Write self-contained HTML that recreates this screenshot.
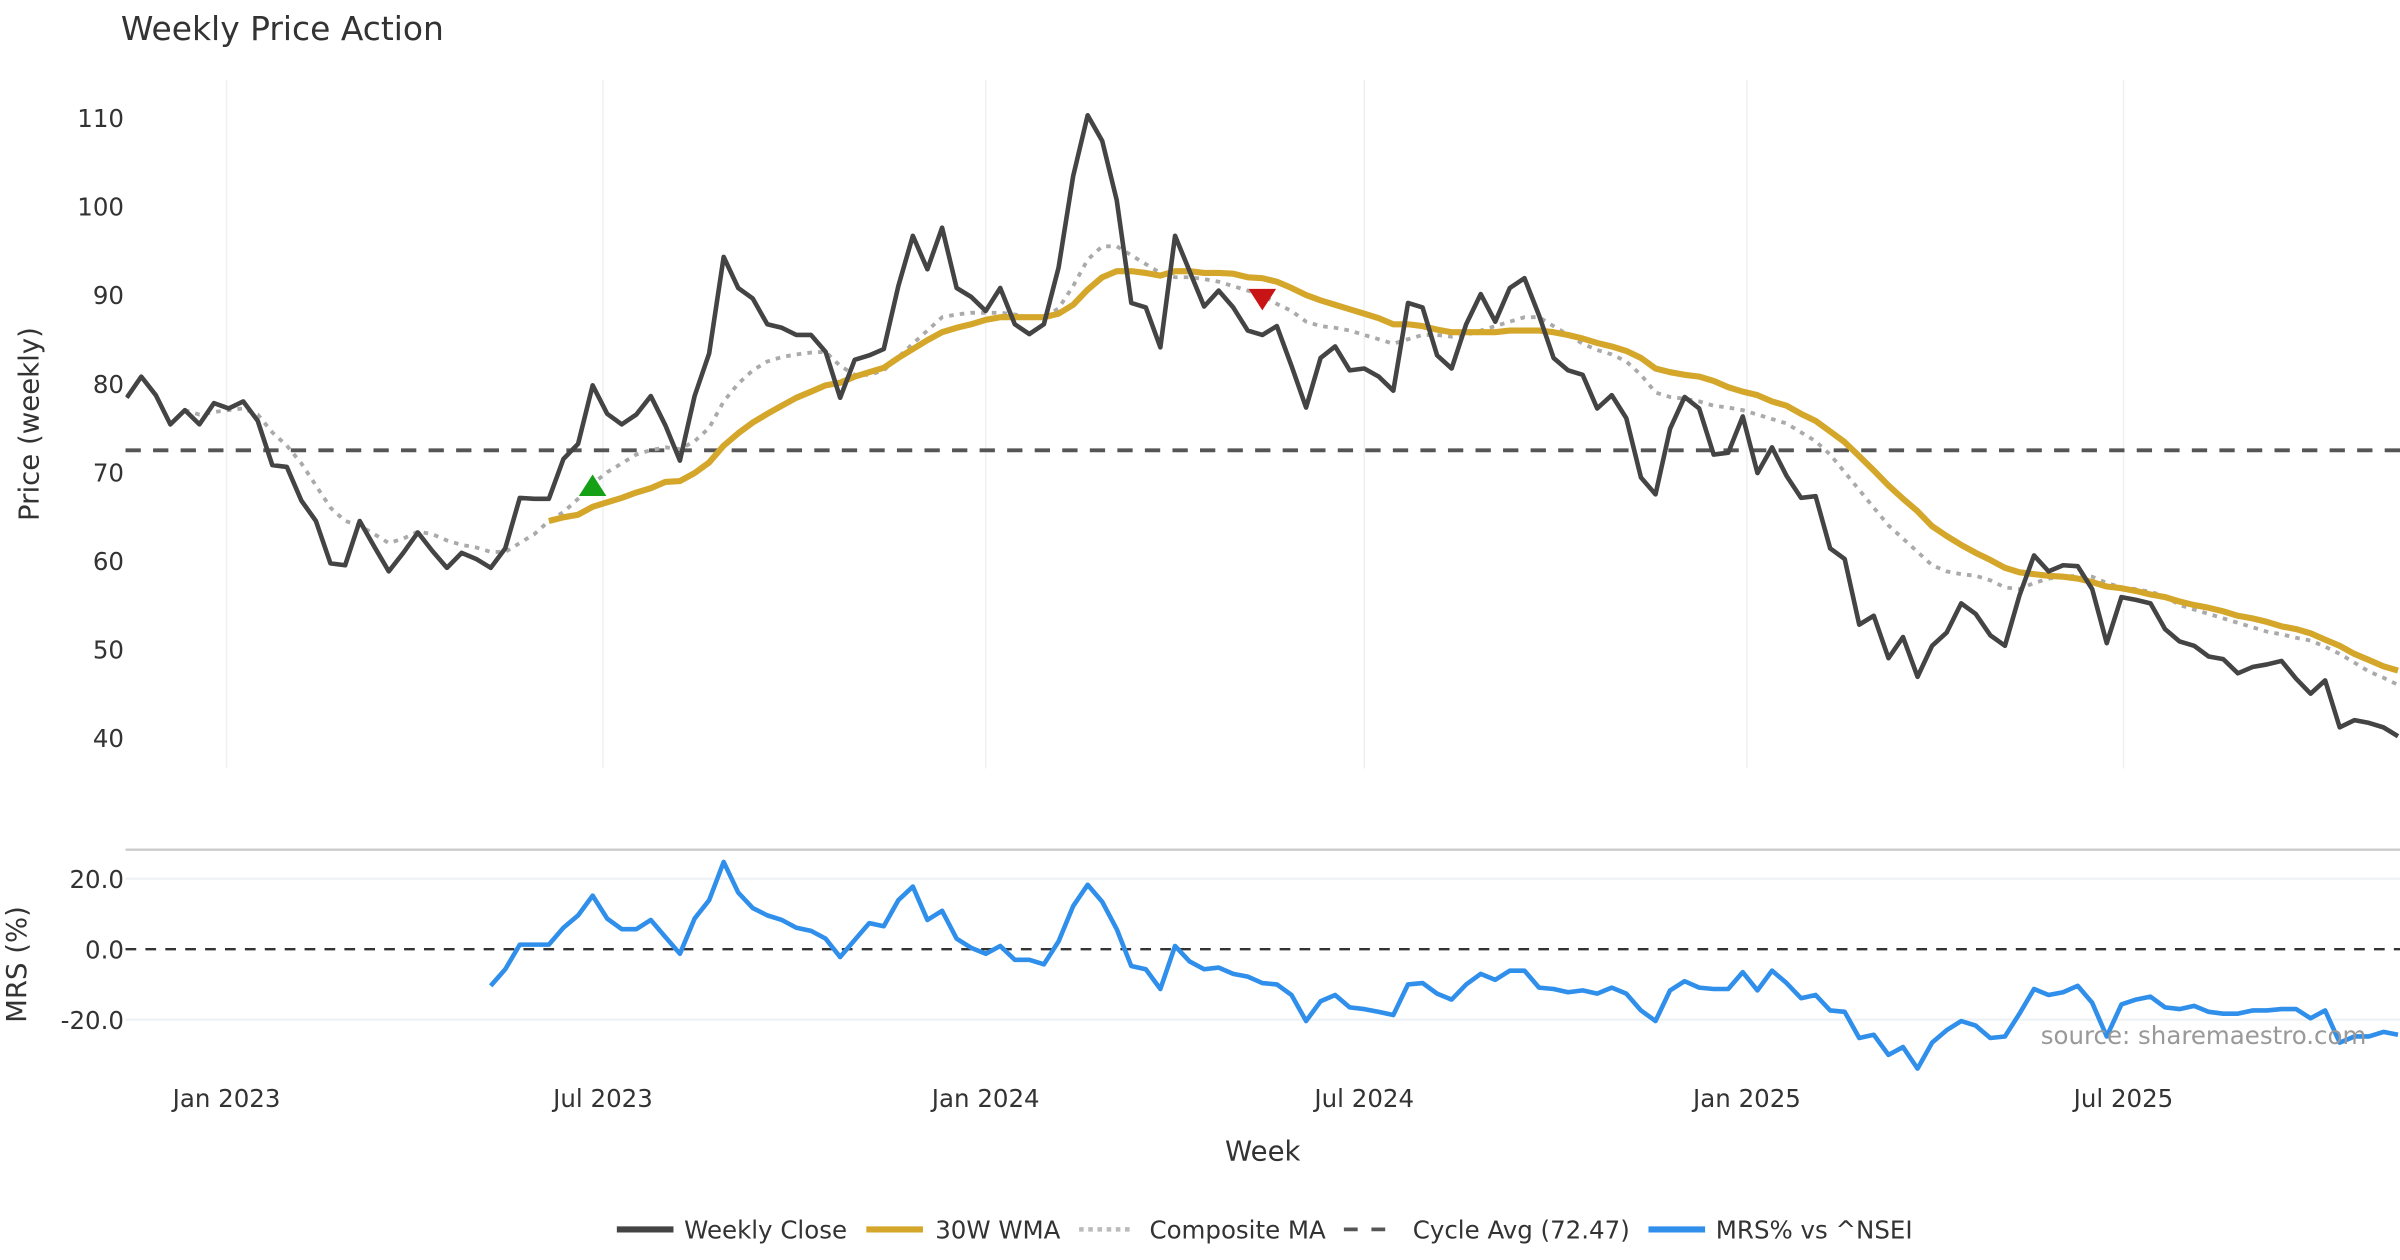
<!DOCTYPE html>
<html><head><meta charset="utf-8"><style>
html,body{margin:0;padding:0;background:#fff;}
svg{display:block;font-family:"DejaVu Sans","Liberation Sans",sans-serif;}
</style></head><body>
<svg id="chart" width="2400" height="1260" viewBox="0 0 1568 823" preserveAspectRatio="none" xmlns="http://www.w3.org/2000/svg">
<defs>
<clipPath id="clipTop"><rect x="82" y="40" width="1486" height="470"/></clipPath>
<clipPath id="clipBot"><rect x="82" y="556" width="1486" height="150"/></clipPath>
</defs>
<text x="79" y="26" font-size="21.5" fill="#333">Weekly Price Action</text>
<g id="gridG"></g>
<g id="topG" clip-path="url(#clipTop)"></g>
<g id="botG" clip-path="url(#clipBot)"></g>
<g id="axesG"></g>
<text transform="translate(25,277) rotate(-90)" text-anchor="middle" font-size="18" fill="#333">Price (weekly)</text>
<text transform="translate(17,630) rotate(-90)" text-anchor="middle" font-size="18" fill="#333">MRS (%)</text>
<text x="825" y="758" text-anchor="middle" font-size="18" fill="#333">Week</text>
<text x="1546" y="682" text-anchor="end" font-size="16" fill="#999">source: sharemaestro.com</text>
<g id="legend">
<line x1="403" y1="803" x2="440" y2="803" stroke="#444" stroke-width="4"/>
<text x="447" y="809" font-size="16" fill="#333">Weekly Close</text>
<line x1="566" y1="803" x2="603" y2="803" stroke="#D4A62A" stroke-width="4"/>
<text x="611" y="809" font-size="16" fill="#333">30W WMA</text>
<line x1="705" y1="803" x2="741" y2="803" stroke="#bbb" stroke-width="3" stroke-dasharray="3,3"/>
<text x="751" y="809" font-size="16" fill="#333">Composite MA</text>
<line x1="878" y1="803" x2="914" y2="803" stroke="#555" stroke-width="2.5" stroke-dasharray="9,9"/>
<text x="923" y="809" font-size="16" fill="#333">Cycle Avg (72.47)</text>
<line x1="1077" y1="803" x2="1114" y2="803" stroke="#2F8FEA" stroke-width="4"/>
<text x="1121" y="809" font-size="16" fill="#333">MRS% vs ^NSEI</text>
</g>
</svg>
<script>
const closeVals=[78.4,80.8,78.7,75.4,77,75.4,77.8,77.2,78,75.8,70.8,70.6,66.8,64.5,59.7,59.5,64.5,61.6,58.8,60.9,63.2,61.1,59.2,60.9,60.2,59.2,61.4,67.1,67,67,71.5,73.2,79.8,76.6,75.4,76.5,78.6,75.3,71.3,78.6,83.4,94.3,90.8,89.6,86.7,86.3,85.5,85.5,83.6,78.4,82.7,83.2,83.9,91,96.7,92.9,97.6,90.8,89.8,88.2,90.8,86.7,85.6,86.7,93.1,103.4,110.3,107.4,100.7,89.1,88.6,84.1,96.7,92.7,88.7,90.5,88.6,86,85.5,86.5,82,77.3,82.9,84.2,81.5,81.7,80.8,79.2,89.1,88.6,83.2,81.7,86.7,90.1,87,90.8,91.9,87.7,82.9,81.5,81,77.2,78.7,76.1,69.4,67.5,74.9,78.5,77.2,72,72.2,76.3,69.9,72.8,69.6,67.1,67.3,61.4,60.2,52.8,53.8,49,51.4,46.9,50.4,51.9,55.2,54,51.6,50.4,56.1,60.6,58.8,59.5,59.4,56.8,50.7,55.9,55.6,55.2,52.3,50.9,50.4,49.2,48.9,47.3,48,48.3,48.7,46.7,45,46.5,41.2,42,41.7,41.2,40.2];
const wmaVals=[null,null,null,null,null,null,null,null,null,null,null,null,null,null,null,null,null,null,null,null,null,null,null,null,null,null,null,null,null,64.5,64.9,65.2,66.1,66.6,67.1,67.7,68.2,68.9,69.0,69.9,71.1,73.0,74.4,75.6,76.6,77.5,78.4,79.1,79.8,80.1,80.8,81.3,81.8,82.9,83.9,84.9,85.8,86.3,86.7,87.2,87.5,87.5,87.5,87.5,87.9,88.9,90.6,92.0,92.7,92.7,92.5,92.2,92.7,92.7,92.5,92.5,92.4,92.0,91.9,91.5,90.8,90.0,89.4,88.9,88.4,87.9,87.4,86.7,86.7,86.5,86.1,85.8,85.8,85.8,85.8,86.0,86.0,86.0,85.8,85.5,85.1,84.6,84.2,83.7,82.9,81.7,81.3,81.0,80.8,80.3,79.6,79.1,78.7,78.0,77.5,76.6,75.8,74.6,73.4,71.8,70.2,68.5,67.0,65.6,63.9,62.8,61.8,60.9,60.1,59.2,58.7,58.5,58.3,58.2,58.0,57.6,57.1,56.9,56.6,56.2,55.9,55.4,55.0,54.7,54.3,53.8,53.5,53.1,52.6,52.3,51.8,51.1,50.4,49.5,48.8,48.1,47.6];
const compVals=[null,null,null,null,77,76.5,76.8,77,77.2,76.5,74.5,73,71,68.5,66,64.5,64,63,62,62.5,63.3,63,62.3,61.8,61.5,61,61,62,63,64.5,65.5,67,68.7,70,71,72,72.5,72.8,72.6,73.5,75,78,80,81.5,82.5,83,83.3,83.5,83.6,82,81,81,81.5,83,84.5,86,87.5,87.8,88,88,88,87.8,87.5,87.5,88.5,91,94,95.5,95.5,94.5,93.5,92.5,92,92,91.8,91.5,91,90.5,90,89,88.2,87,86.5,86.3,86,85.5,85,84.5,85,85.5,85.5,85.3,85.5,86,86.5,87,87.5,87.5,86.5,85.5,84.5,83.8,83.3,82.5,81,79,78.5,78.3,78,77.5,77.3,77,76.5,76,75.5,74.5,73.5,72,70,68,66,64,62.5,61,59.5,58.8,58.5,58.3,57.8,57,56.8,57.5,58,58.2,58.3,58.2,57.5,57,56.8,56.5,56,55,54.5,54,53.5,53,52.5,52,51.7,51.3,51,50.3,49.5,48.5,47.5,46.8,46];
const mrsVals=[null,null,null,null,null,null,null,null,null,null,null,null,null,null,null,null,null,null,null,null,null,null,null,null,null,-10.4,-5.7,1.3,1.3,1.3,6.1,9.6,15.2,8.7,5.7,5.7,8.3,3.5,-1.3,8.7,13.9,24.8,16.1,11.7,9.6,8.3,6.1,5.2,3.0,-2.2,2.6,7.4,6.5,13.9,17.8,8.3,10.9,3.0,0.4,-1.3,0.9,-3.0,-3.0,-4.3,2.2,12.2,18.3,13.5,5.7,-4.8,-5.7,-11.3,0.9,-3.5,-5.7,-5.2,-7.0,-7.8,-9.6,-10.0,-13.0,-20.4,-14.8,-13.0,-16.5,-17.0,-17.8,-18.7,-10.0,-9.6,-12.6,-14.3,-10.0,-7.0,-8.7,-6.1,-6.1,-10.9,-11.3,-12.2,-11.7,-12.6,-10.9,-12.6,-17.4,-20.4,-11.7,-9.1,-10.9,-11.3,-11.3,-6.5,-11.7,-6.1,-9.6,-13.9,-13.0,-17.4,-17.8,-25.2,-24.3,-30.0,-27.8,-33.9,-26.5,-23.0,-20.4,-21.7,-25.2,-24.8,-18.3,-11.3,-13.0,-12.2,-10.4,-15.2,-24.8,-15.7,-14.3,-13.5,-16.5,-17.0,-16.1,-17.8,-18.3,-18.3,-17.4,-17.4,-17.0,-17.0,-19.6,-17.4,-26.5,-24.8,-24.8,-23.5,-24.3];
const priceTicks=[40,50,60,70,80,90,100,110];
const mrsTicks=[-20,0,20];
const mrsTickLabels=["-20.0","0.0","20.0"];
const xTickDates=["2023-01-01","2023-07-01","2024-01-01","2024-07-01","2025-01-01","2025-07-01"];
const xTickLabels=["Jan 2023","Jul 2023","Jan 2024","Jul 2024","Jan 2025","Jul 2025"];
const cycleAvg=72.47;
const upSignalIdx=[32];
const downSignalIdx=[78];
const startDate="2022-11-14";

const NS="http://www.w3.org/2000/svg";
const DAY=86400000;
const origin=Date.parse("2023-01-01");
function xDate(t){return 148+(t-origin)/DAY*1.3589;}
function xIdx(i){return xDate(Date.parse(startDate)+i*7*DAY);}
function yP(v){return 77+(110-v)*5.786;}
function yM(v){return 620-v*2.3;}
function mk(tag,attrs,parent){const e=document.createElementNS(NS,tag);for(const k in attrs)e.setAttribute(k,attrs[k]);parent.appendChild(e);return e;}
function pathOf(vals,ys){let d="",pen=false;vals.forEach((v,i)=>{if(v==null){pen=false;return;}d+=(pen?"L":"M")+xIdx(i).toFixed(1)+","+ys(v).toFixed(1);pen=true;});return d;}

const gridG=document.getElementById('gridG'),topG=document.getElementById('topG'),botG=document.getElementById('botG'),axesG=document.getElementById('axesG');
xTickDates.forEach((d,k)=>{
  const x=xDate(Date.parse(d));
  const g=mk('line',{x1:x,y1:52,x2:x,y2:502,stroke:'#edf1f4','stroke-width':1},gridG);
  
  
  const t=mk('text',{x:x,y:723,'text-anchor':'middle','font-size':16,fill:'#333'},axesG);
  t.textContent=xTickLabels[k];
  
  
});
priceTicks.forEach(v=>{
  const t=mk('text',{x:81,y:yP(v)+6,'text-anchor':'end','font-size':16,fill:'#333'},axesG);
  t.textContent=v;
  
  
});
mrsTicks.forEach((v,k)=>{
  if(v!==0){const g=mk('line',{x1:82,y1:yM(v),x2:1568,y2:yM(v),stroke:'#eef2f5','stroke-width':1.5},gridG);
  
  }
  const t=mk('text',{x:81,y:yM(v)+6,'text-anchor':'end','font-size':16,fill:'#333'},axesG);
  t.textContent=mrsTickLabels[k];
  
  
});
const sep=mk('line',{x1:82,y1:555,x2:1568,y2:555,stroke:'#ccc','stroke-width':1.5},gridG);



let e;
e=mk('line',{x1:82,y1:yP(cycleAvg),x2:1568,y2:yP(cycleAvg),stroke:'#555','stroke-width':2.5,'stroke-dasharray':'10,8'},topG);


e=mk('path',{d:pathOf(compVals,yP),fill:'none',stroke:'#aaa','stroke-width':2.5,'stroke-dasharray':'3,4'},topG);


e=mk('path',{d:pathOf(wmaVals,yP),fill:'none',stroke:'#D4A62A','stroke-width':4,'stroke-linejoin':'round'},topG);


e=mk('path',{d:pathOf(closeVals,yP),fill:'none',stroke:'#444','stroke-width':3,'stroke-linejoin':'round'},topG);


upSignalIdx.forEach(i=>{const x=xIdx(i),y=yP(compVals[i])+2;
  const t=mk('polygon',{points:`${x-9},${y+6} ${x+9},${y+6} ${x},${y-8}`,fill:'#16a016'},topG);
  
  });
downSignalIdx.forEach(i=>{const x=xIdx(i),y=yP(compVals[i])+4;
  const t=mk('polygon',{points:`${x-9},${y-8} ${x+9},${y-8} ${x},${y+6}`,fill:'#c81414'},topG);
  
  });

e=mk('line',{x1:82,y1:yM(0),x2:1568,y2:yM(0),stroke:'#333','stroke-width':1.5,'stroke-dasharray':'7,6'},botG);


e=mk('path',{d:pathOf(mrsVals,yM),fill:'none',stroke:'#2F8FEA','stroke-width':3,'stroke-linejoin':'round'},botG);


</script>
</body></html>
